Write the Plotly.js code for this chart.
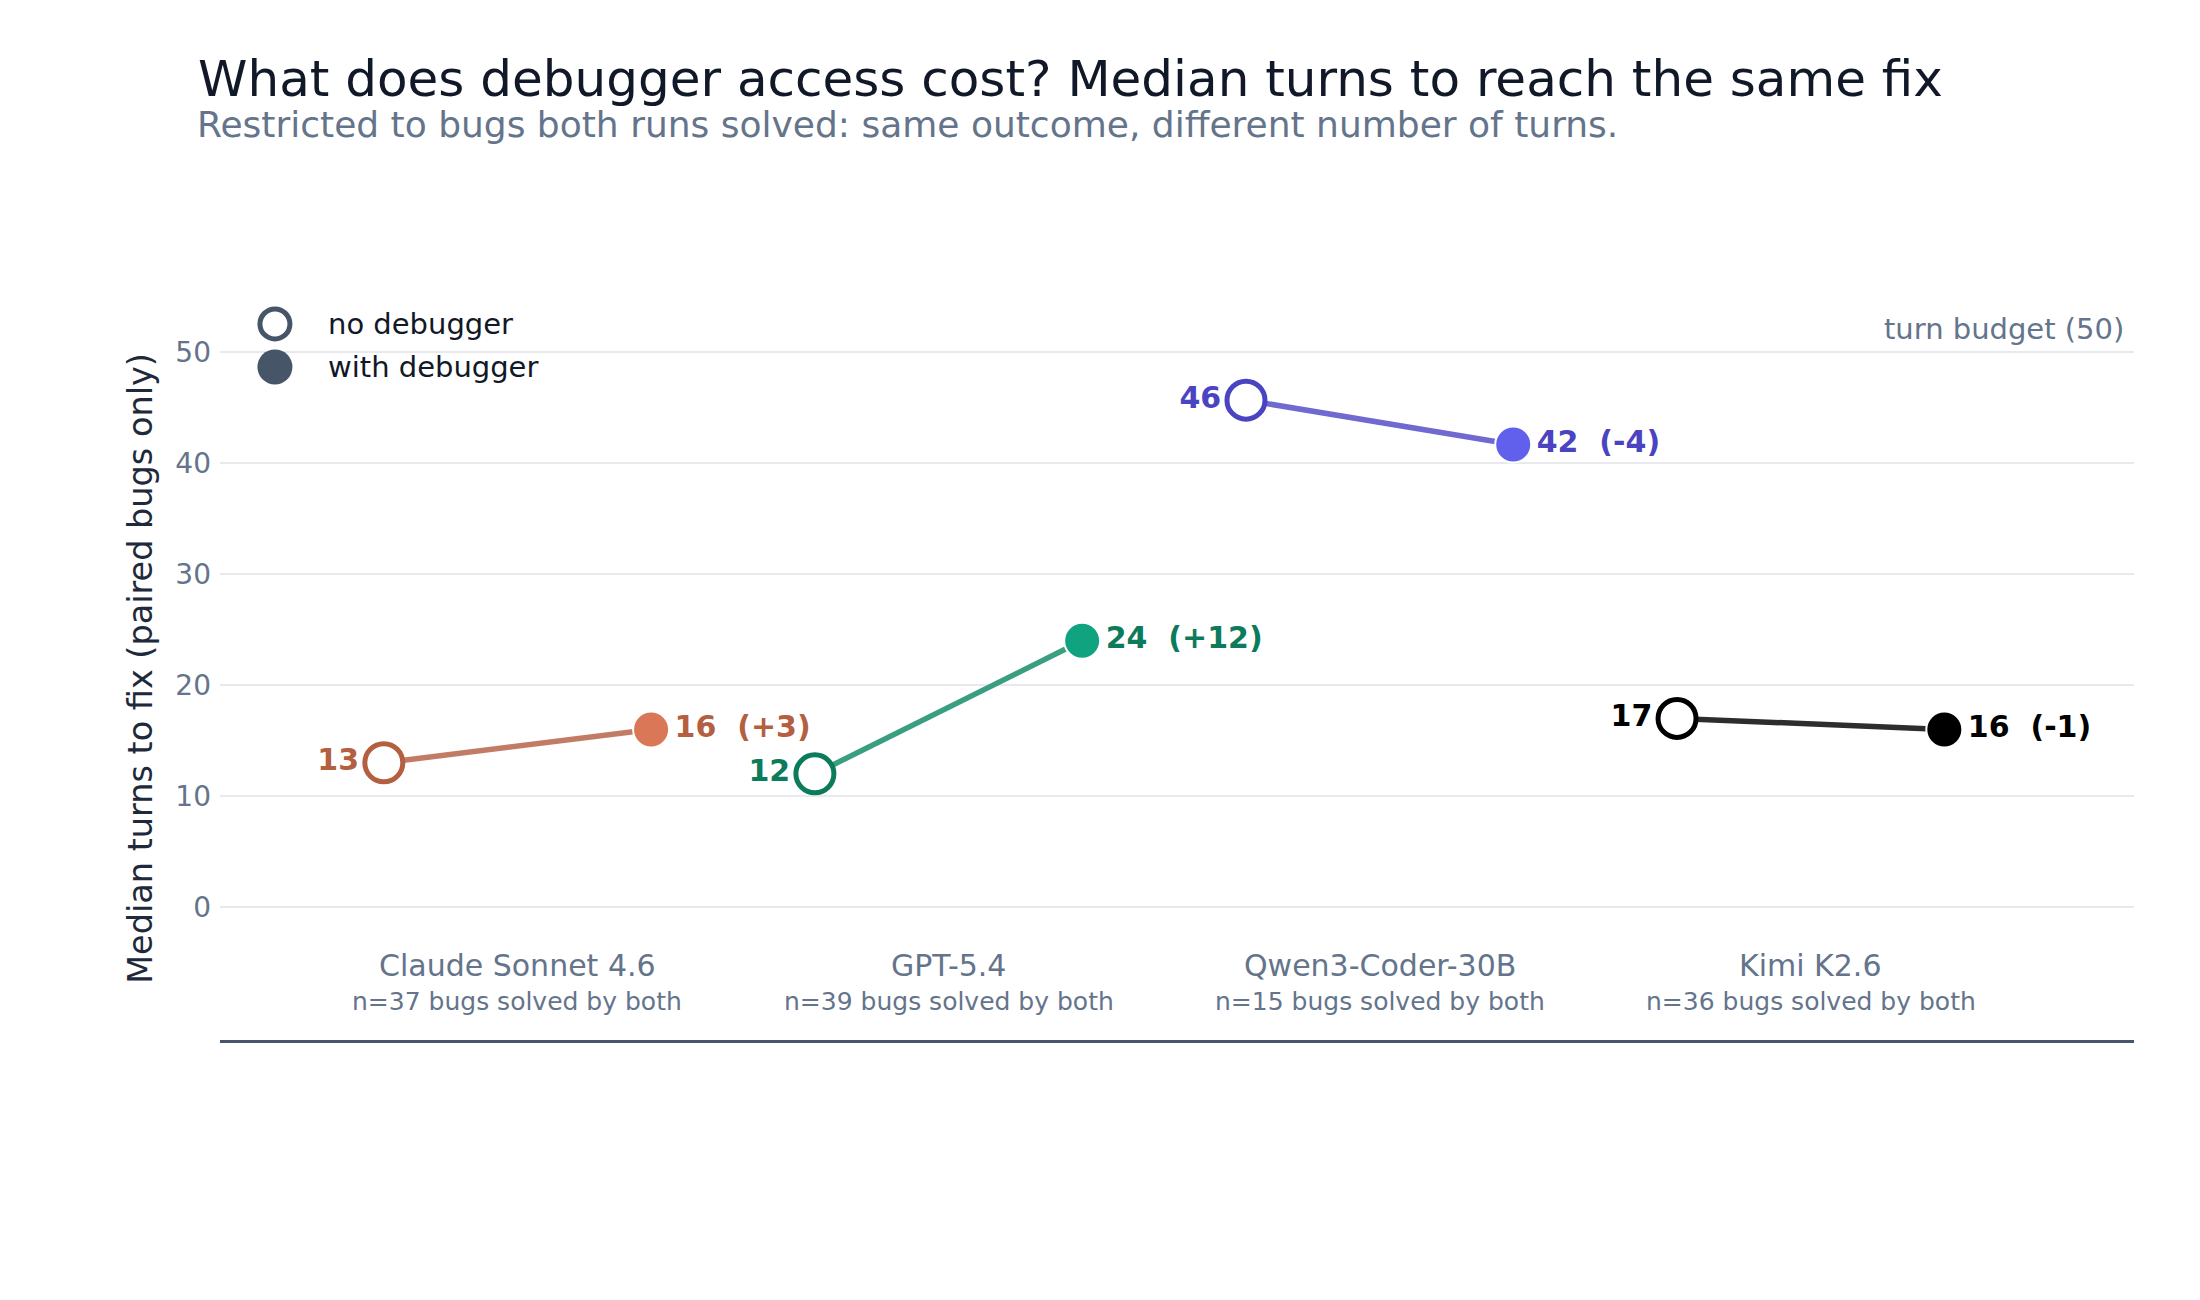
<!DOCTYPE html>
<html>
<head>
<meta charset="utf-8">
<script src="https://cdn.plot.ly/plotly-3.0.1.min.js"></script>
<style>html,body{margin:0;padding:0;background:#fff;}#chart{width:2200px;height:1300px;}</style>
</head>
<body>
<div id="chart"></div>
<script>
// ---- data ----
const models = ['Claude Sonnet 4.6', 'GPT-5.4', 'Qwen3-Coder-30B', 'Kimi K2.6'];
const bugsSolvedByBoth = [37, 39, 15, 36];
const medianTurnsNoDebugger = [13, 12, 45.7, 17];
const medianTurnsWithDebugger = [16, 24, 41.7, 16];
const seriesNames = ['no debugger', 'with debugger'];
const turnBudget = 50;
const yTicks = [0, 10, 20, 30, 40, 50];

// ---- style ----
const FONT = 'DejaVu Sans';
const labelColors = ['#b45f3f', '#0b7b5b', '#4a44c2', '#000000'];
const fillColors = ['#d97757', '#10a37f', '#6160ec', '#000000'];
const lineColors = ['#c27c65', '#3a9e80', '#6f69d0', '#2d2d2d'];
const pairOffset = 0.31;

const traces = models.map((m, i) => {
  const a = medianTurnsNoDebugger[i], b = medianTurnsWithDebugger[i];
  const ra = Math.round(a), rb = Math.round(b), d = rb - ra;
  return {
    type: 'scatter',
    mode: 'lines+markers+text',
    name: m,
    x: [i - pairOffset, i + pairOffset],
    y: [a, b],
    text: [String(ra), rb + '\u00a0 (' + (d > 0 ? '+' : '') + d + ')'],
    textposition: ['middle left', 'middle right'],
    textfont: {family: FONT, size: 30, color: labelColors[i], weight: 'bold'},
    line: {color: lineColors[i], width: 5.5},
    marker: {
      symbol: 'circle',
      size: [38, 36],
      opacity: 1,
      color: ['#ffffff', fillColors[i]],
      line: {color: [labelColors[i], '#ffffff'], width: [5, 2]}
    },
    cliponaxis: false,
    showlegend: false,
    hoverinfo: 'skip'
  };
});

const annotations = [];
models.forEach((m, i) => {
  annotations.push({x: i, y: -5.3, xref: 'x', yref: 'y', text: m, showarrow: false,
    xanchor: 'center', yanchor: 'middle', font: {family: FONT, size: 30, color: '#64748b'}});
  annotations.push({x: i, y: -8.5, xref: 'x', yref: 'y', text: 'n=' + bugsSolvedByBoth[i] + ' bugs solved by both',
    showarrow: false, xanchor: 'center', yanchor: 'middle', font: {family: FONT, size: 25, color: '#64748b'}});
});
annotations.push({x: 1, y: turnBudget, xref: 'paper', yref: 'y', text: 'turn budget (' + turnBudget + ')',
  showarrow: false, xanchor: 'right', yanchor: 'bottom', xshift: -8, yshift: 4,
  font: {family: FONT, size: 29, color: '#64748b'}});
annotations.push({x: -0.013, y: 1.2315, xref: 'paper', yref: 'paper',
  text: 'Restricted to bugs both runs solved: same outcome, different number of turns.',
  showarrow: false, xanchor: 'left', yanchor: 'middle', font: {family: FONT, size: 36, color: '#64748b'}});
// custom legend labels
annotations.push({x: 0.0553, y: 0.9637, xref: 'paper', yref: 'paper', text: seriesNames[0], showarrow: false,
  xanchor: 'left', yanchor: 'middle', font: {family: FONT, size: 29, color: '#111827'}});
annotations.push({x: 0.0553, y: 0.9058, xref: 'paper', yref: 'paper', text: seriesNames[1], showarrow: false,
  xanchor: 'left', yanchor: 'middle', font: {family: FONT, size: 29, color: '#111827'}});

const shapes = [
  {type: 'circle', xref: 'paper', yref: 'paper', xsizemode: 'pixel', ysizemode: 'pixel',
   xanchor: 0.0287, yanchor: 0.9637, x0: -15, x1: 15, y0: -15, y1: 15,
   fillcolor: '#ffffff', line: {color: '#475569', width: 5}},
  {type: 'circle', xref: 'paper', yref: 'paper', xsizemode: 'pixel', ysizemode: 'pixel',
   xanchor: 0.0287, yanchor: 0.9058, x0: -17.5, x1: 17.5, y0: -17.5, y1: 17.5,
   fillcolor: '#475569', line: {width: 0}}
];

const layout = {
  width: 2200, height: 1300,
  paper_bgcolor: '#ffffff', plot_bgcolor: '#ffffff',
  margin: {l: 220, r: 66, t: 297, b: 260},
  font: {family: FONT},
  title: {
    text: 'What does debugger access cost? Median turns to reach the same fix',
    x: 0.09, xref: 'container', xanchor: 'left',
    y: 0.9395, yref: 'container', yanchor: 'middle',
    font: {family: FONT, size: 50, color: '#111827'}
  },
  showlegend: false,
  xaxis: {
    range: [-0.69, 3.75], showgrid: false, zeroline: false, showticklabels: false,
    showline: true, linecolor: '#475569', linewidth: 3, ticks: '', fixedrange: true
  },
  yaxis: {
    range: [-12, 55], tickvals: yTicks, ticktext: yTicks.map(String),
    showgrid: true, gridcolor: '#e8e9ee', gridwidth: 2, zeroline: false, ticks: '',
    showline: false, ticklabelstandoff: 8,
    tickfont: {family: FONT, size: 28, color: '#64748b'},
    title: {text: 'Median turns to fix (paired bugs only)', standoff: 12,
      font: {family: FONT, size: 33.5, color: '#1e293b'}},
    automargin: true, fixedrange: true
  },
  annotations: annotations,
  shapes: shapes
};

Plotly.newPlot('chart', traces, layout, {displayModeBar: false, staticPlot: true});
</script>
</body>
</html>
